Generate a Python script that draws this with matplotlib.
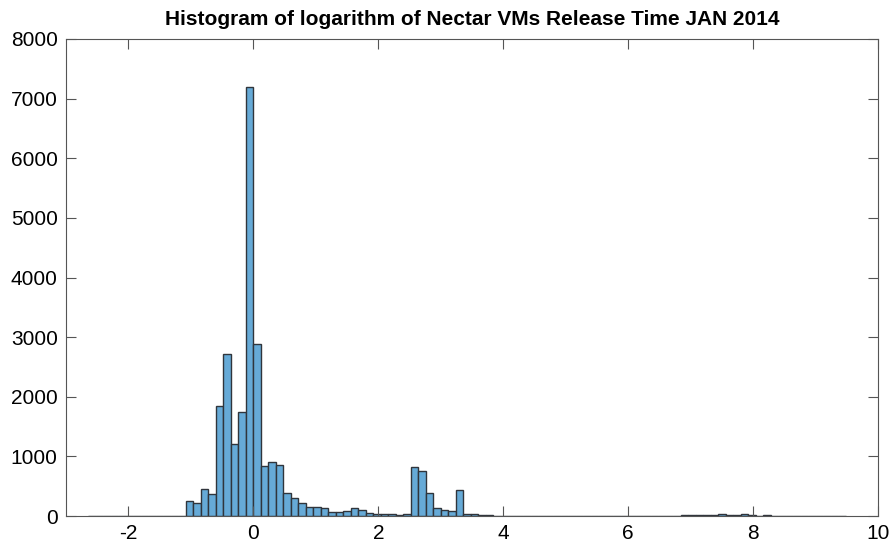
import numpy as np
import matplotlib.pyplot as plt

# histogram counts, bins of width 0.12 starting at -2.64
bin_start = -2.64
bin_width = 0.12

counts_left_tail = [0, 0, 0, 0, 0, 1, 0, 2, 3, 2, 4, 5, 8]              # -2.64 .. -1.08
counts_neg = [257, 213, 447, 369, 1850, 2720, 1207, 1739, 7192]          # -1.08 .. 0
counts_pos = [2880, 838, 911, 855, 380, 296, 224, 157, 157, 129, 67,
              67, 84, 134, 100, 56, 39, 39, 39, 17, 28]                  # 0 .. 2.52
counts_second = [827, 760, 380, 128, 100, 84, 436, 34, 34]               # 2.52 .. 3.6
counts_right_tail = [15, 10, 6, 5, 4, 3, 5, 4, 6, 3, 4, 3, 2, 5, 3, 6, 2,
                     4, 3, 2, 4, 3, 5, 6, 4, 8, 6, 10, 18, 22, 10, 25, 28,
                     15, 10, 26, 14, 8, 16, 6, 5, 4, 3, 2, 2, 3, 2, 4, 1]  # 3.6 .. 9.48

counts = np.array(counts_left_tail + counts_neg + counts_pos
                  + counts_second + counts_right_tail)
left_edges = bin_start + bin_width * np.arange(len(counts))

xticks = [-2, 0, 2, 4, 6, 8, 10]
yticks = [0, 1000, 2000, 3000, 4000, 5000, 6000, 7000, 8000]

plt.rcParams['font.family'] = ['Liberation Sans', 'DejaVu Sans']
plt.rcParams['axes.unicode_minus'] = False

fig = plt.figure(figsize=(8.95, 5.5), dpi=100)
ax = fig.add_axes([0.0737, 0.0618, 0.9073, 0.8673])

ax.bar(left_edges, counts, width=bin_width, align='edge',
       color='#66aad7', edgecolor='#30353c', linewidth=1.0)

ax.set_xlim(-3, 10)
ax.set_ylim(0, 8000)
ax.set_xticks(xticks)
ax.set_yticks(yticks)
ax.tick_params(direction='in', length=7, width=0.8, color='#555555',
               top=True, right=True, labelsize=15, pad=6)
for s in ax.spines.values():
    s.set_color('#555555')
    s.set_linewidth(0.8)

ax.set_title('Histogram of logarithm of Nectar VMs Release Time JAN 2014',
             fontsize=15, fontweight='bold', pad=10)

fig.savefig('out.png', dpi=100)
